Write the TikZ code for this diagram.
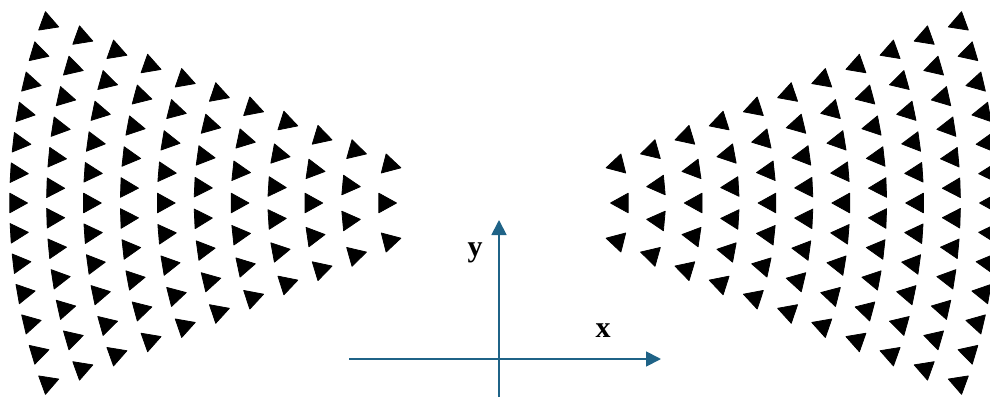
\documentclass[tikz,border=0pt]{standalone}
\usepackage{fontspec}
\setmainfont{Liberation Serif}
\usetikzlibrary{arrows.meta}
\definecolor{axisblue}{RGB}{31,99,135}
\tikzset{
  axisline/.style={draw=axisblue, line width=1.8pt, -{Triangle[length=15pt,width=15pt]}},
  axislabel/.style={font=\fontsize{30}{30}\selectfont\bfseries, inner sep=0pt, anchor=base},
  tri/.style={fill=black, draw=black, line width=0.8pt, line join=round}
}
\begin{document}
\begin{tikzpicture}[x=1pt,y=1pt]
\useasboundingbox (0,0) rectangle (990,397);
\clip (0,0) rectangle (990,397);
% fans of triangles
\foreach \k in {0,...,10}{
  \pgfmathsetmacro\r{524-36.9*\k}
  \pgfmathtruncatemacro\n{12-\k}
  \pgfmathsetmacro\yt{180-14.2*\k}
  \foreach \j in {0,...,\n}{
    \pgfmathsetmacro\yo{\yt-2*\yt*\j/\n}
    \pgfmathsetmacro\xo{100*sqrt((\r/100)^2-(\yo/100)^2)}
    \pgfmathsetmacro\ang{atan2(-\yo,\xo)}
    \pgfmathsetmacro\XL{540-\xo}
    \pgfmathsetmacro\XR{467+\xo}
    \pgfmathsetmacro\Y{194+\yo}
    \pgfmathsetmacro\angR{180-\ang}
    \filldraw[tri, shift={(\XL,\Y)}, rotate=\ang] (11.5,0) -- (-6.2,9.8) -- (-6.2,-9.8) -- cycle;
    \filldraw[tri, shift={(\XR,\Y)}, rotate=\angR] (11.5,0) -- (-6.2,9.8) -- (-6.2,-9.8) -- cycle;
  }
}
% axes
\coordinate (xstart) at (349,38);
\coordinate (xend) at (661,38);
\coordinate (ybot) at (499,0);
\coordinate (ytop) at (499,177);
\draw[axisline] (xstart) -- (xend);
\draw[axisline] (ybot) -- (ytop);
\node[axislabel] (xlab) at (603,60) {x};
\node[axislabel] (ylab) at (475,141) {y};
\end{tikzpicture}
\end{document}
